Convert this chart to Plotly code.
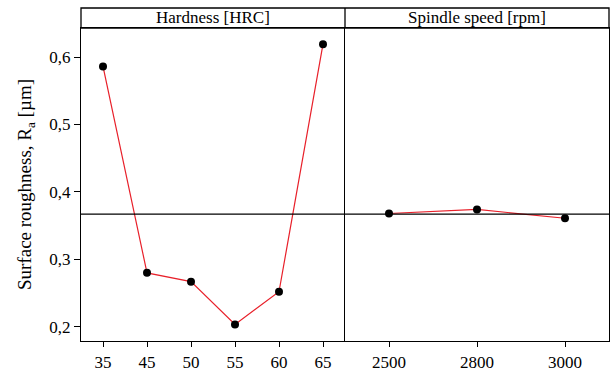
import plotly.graph_objects as go
from plotly.subplots import make_subplots

hardness = ["35", "45", "50", "55", "60", "65"]
ra_hardness = [0.586, 0.280, 0.267, 0.2035, 0.252, 0.619]
speed = ["2500", "2800", "3000"]
ra_speed = [0.368, 0.374, 0.361]
mean_ra = 0.367
y_ticks = [0.2, 0.3, 0.4, 0.5, 0.6]
y_ticktext = ["0,2", "0,3", "0,4", "0,5", "0,6"]
panel_titles = ["Hardness [HRC]", "Spindle speed [rpm]"]

FONT = "Liberation Serif"
W, H = 611, 372
ml, mr, mt, mb = 81, 2, 8, 31
plot_h = H - mt - mb
strip_px = 20
dom_top = (plot_h - strip_px) / plot_h

fig = make_subplots(rows=1, cols=2, horizontal_spacing=0, shared_yaxes=True)

line_style = dict(color="#e8202a", width=1.2)
marker_style = dict(color="black", size=8)

fig.add_trace(go.Scatter(x=hardness, y=ra_hardness, mode="lines+markers",
                         line=line_style, marker=marker_style, showlegend=False), 1, 1)
fig.add_trace(go.Scatter(x=speed, y=ra_speed, mode="lines+markers",
                         line=line_style, marker=marker_style, showlegend=False), 1, 2)

axis_common = dict(showline=True, linecolor="black", linewidth=1.3, mirror=True,
                   showgrid=False, zeroline=False, ticks="outside", ticklen=5,
                   tickcolor="black", tickwidth=1,
                   tickfont=dict(family=FONT, size=17, color="black"))

fig.update_xaxes(type="category", range=[-0.5, 5.5], row=1, col=1, **axis_common)
fig.update_xaxes(type="category", range=[-0.5, 2.5], row=1, col=2, **axis_common)
fig.update_yaxes(range=[0.179, 0.643], domain=[0, dom_top], **axis_common)
fig.update_yaxes(tickvals=y_ticks, ticktext=y_ticktext, ticklen=6, mirror=False,
                 title=dict(text="Surface roughness, R<sub>a</sub> [µm]",
                            font=dict(family=FONT, size=19, color="black"), standoff=12),
                 row=1, col=1)
fig.update_yaxes(showticklabels=False, ticks="", row=1, col=2)

# mean line across both panels
fig.add_shape(type="line", xref="paper", yref="y", x0=0, x1=1, y0=mean_ra, y1=mean_ra,
              line=dict(color="black", width=1.3))

# strip headers
fig.add_shape(type="rect", xref="paper", yref="paper", x0=0, x1=1, y0=dom_top, y1=1,
              line=dict(color="black", width=1.3), fillcolor="white", layer="below")
fig.add_shape(type="line", xref="paper", yref="paper", x0=0.5, x1=0.5, y0=dom_top, y1=1,
              line=dict(color="black", width=1.3))
for i, t in enumerate(panel_titles):
    fig.add_annotation(text=t, xref="paper", yref="paper", x=0.25 + 0.5 * i,
                       y=(dom_top + 1) / 2, showarrow=False, xanchor="center",
                       yanchor="middle",
                       font=dict(family=FONT, size=17, color="black"))

fig.update_layout(width=W, height=H, margin=dict(l=ml, r=mr, t=mt, b=mb, autoexpand=False),
                  paper_bgcolor="white", plot_bgcolor="white",
                  font=dict(family=FONT, color="black"))

fig.write_html("out.html", config={"displayModeBar": False},
               post_script="document.body.style.margin='0';")
